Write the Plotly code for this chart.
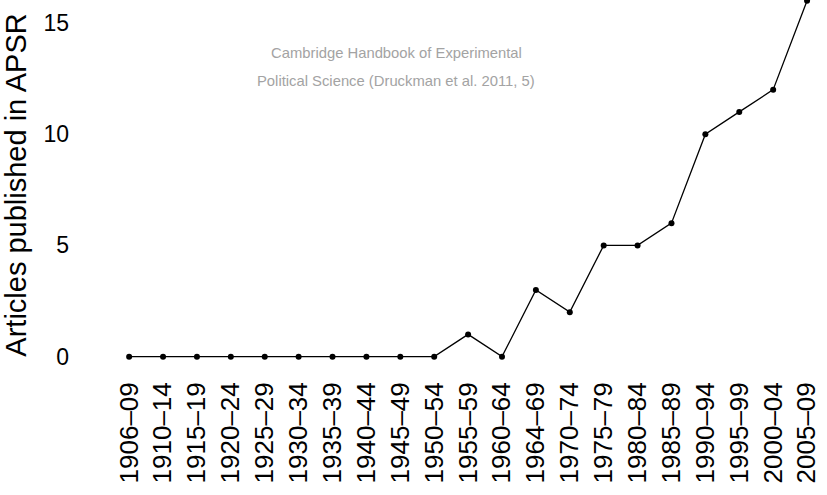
import plotly.graph_objects as go

# Five-year periods and experimental articles published in the APSR
periods = ["1906–09", "1910–14", "1915–19", "1920–24", "1925–29", "1930–34",
           "1935–39", "1940–44", "1945–49", "1950–54", "1955–59", "1960–64",
           "1964–69", "1970–74", "1975–79", "1980–84", "1985–89", "1990–94",
           "1995–99", "2000–04", "2005–09"]
articles = [0, 0, 0, 0, 0, 0, 0, 0, 0, 0, 1, 0, 3, 2, 5, 5, 6, 10, 11, 12, 16]

y_ticks = [0, 5, 10, 15]
source_lines = ["Cambridge Handbook of Experimental",
                "Political Science (Druckman et al. 2011, 5)"]

FONT = "Liberation Sans, Arial, Helvetica, sans-serif"

fig = go.Figure()
fig.add_trace(go.Scatter(
    x=list(range(len(periods))),
    y=articles,
    mode="lines+markers",
    line=dict(color="black", width=1.3),
    marker=dict(color="black", size=6),
    cliponaxis=False,
    showlegend=False,
))

# Source note, one annotation per line
for i, line in enumerate(source_lines):
    fig.add_annotation(
        x=0.425, xref="paper", y=13.65 - i * 1.25, yref="y",
        text=line, showarrow=False,
        font=dict(family=FONT, size=14.8, color="#a3a3a3"),
        xanchor="center", yanchor="middle",
    )

fig.update_layout(
    width=827, height=495,
    margin=dict(l=80, r=3, t=0, b=125),
    paper_bgcolor="white", plot_bgcolor="white",
    font=dict(family=FONT, color="black"),
)
fig.update_xaxes(
    range=[-1.45, 20.5],
    tickmode="array",
    tickvals=list(range(len(periods))),
    ticktext=periods,
    tickangle=-90,
    tickfont=dict(size=26),
    ticklabelstandoff=6,
    showgrid=False, zeroline=False, showline=False, ticks="",
)
fig.update_yaxes(
    range=[-0.6, 16.03],
    tickmode="array",
    tickvals=y_ticks,
    ticktext=[str(v) for v in y_ticks],
    tickfont=dict(size=23),
    ticklabelstandoff=10,
    title=dict(text="Articles published in APSR", font=dict(size=29), standoff=8),
    showgrid=False, zeroline=False, showline=False, ticks="",
)

fig.write_html("out.html")
